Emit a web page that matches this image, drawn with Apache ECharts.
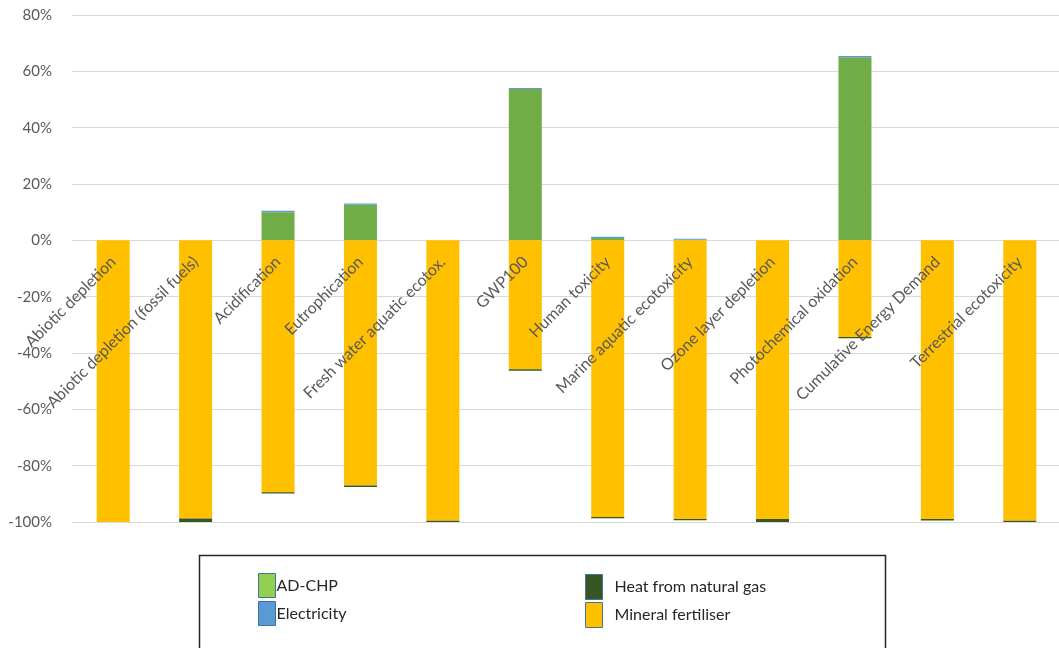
<!DOCTYPE html>
<html>
<head>
<meta charset="utf-8">
<script src="https://cdn.jsdelivr.net/npm/echarts@6/dist/echarts.min.js"></script>
<style>
  html, body { margin: 0; padding: 0; background: #fff; }
  #chart { width: 1059px; height: 648px; }
</style>
</head>
<body>
<div id="chart"></div>
<script>
// Impact categories along the x axis
const categories = [
  'Abiotic depletion',
  'Abiotic depletion (fossil fuels)',
  'Acidification',
  'Eutrophication',
  'Fresh water aquatic ecotox.',
  'GWP100',
  'Human toxicity',
  'Marine aquatic ecotoxicity',
  'Ozone layer depletion',
  'Photochemical oxidation',
  'Cumulative Energy Demand',
  'Terrestrial ecotoxicity'
];

// Contributions in percent per impact category
const adChp       = [0, 0, 10.0, 12.6, 0, 53.7, 0.8, 0.2, 0, 65.0, 0, 0];
const electricity = [0, 0, 0.5, 0.5, 0, 0.4, 0.5, 0.4, 0, 0.4, 0, 0];
const fertiliser  = [-100, -98.8, -89.4, -87.0, -99.6, -45.8, -98.2, -98.9, -98.9, -34.3, -98.9, -99.6];
const heatGas     = [0, -1.2, -0.5, -0.6, -0.4, -0.5, -0.5, -0.5, -1.1, -0.5, -0.6, -0.4];

// Y axis range and step (percent)
const yMin = -100, yMax = 80, yStep = 20;

const FONT = 'Lato, "Open Sans", "Liberation Sans", sans-serif';

// Plot area
const GRID_TOP = 15, GRID_BOTTOM = 126, CHART_H = 648;
const plotH = CHART_H - GRID_TOP - GRID_BOTTOM;
// lift the category axis from the bottom edge up to the 0% line
const zeroLift = -plotH * (0 - yMin) / (yMax - yMin);

const chart = echarts.init(document.getElementById('chart'), null, { renderer: 'canvas' });

const barW = 33;
function barSeries(name, data, color) {
  return {
    name: name,
    type: 'bar',
    stack: 'total',
    barWidth: barW,
    data: data,
    itemStyle: { color: color },
    emphasis: { disabled: true }
  };
}

chart.setOption({
  animation: false,
  backgroundColor: '#ffffff',
  textStyle: { fontFamily: FONT },
  grid: { left: 72, width: 989, top: GRID_TOP, bottom: GRID_BOTTOM, containLabel: false, outerBoundsMode: 'none' },
  xAxis: {
    type: 'category',
    data: categories,
    position: 'bottom',
    offset: zeroLift,
    z: 10,
    // the 0% grid line already marks the baseline
    axisLine: { show: false, onZero: false },
    axisTick: { show: false },
    axisLabel: {
      interval: 0,
      rotate: 45,
      margin: 19,
      hideOverlap: false,
      color: '#595959',
      fontSize: 16,
      fontFamily: FONT
    },
    splitLine: { show: false }
  },
  yAxis: {
    type: 'value',
    min: yMin,
    max: yMax,
    interval: yStep,
    axisLine: { show: false },
    axisTick: { show: false },
    axisLabel: {
      formatter: '{value}%',
      color: '#595959',
      fontSize: 15,
      margin: 20,
      fontFamily: FONT
    },
    splitLine: { lineStyle: { color: '#d9d9d9', width: 1 } }
  },
  legend: [
    {
      data: [
        { name: 'AD-CHP', itemStyle: { color: '#92d050', borderColor: '#41719c', borderWidth: 1 } },
        { name: 'Electricity', itemStyle: { color: '#5b9bd5', borderColor: '#41719c', borderWidth: 1 } }
      ],
      orient: 'vertical',
      left: 258,
      top: 573,
      padding: 0,
      itemWidth: 17,
      itemHeight: 24,
      itemGap: 3,
      icon: 'rect',
      selectedMode: false,
      textStyle: { color: '#262626', fontSize: 16, fontFamily: FONT, padding: [0, 0, 0, -4] }
    },
    {
      data: [
        { name: 'Heat from natural gas', itemStyle: { color: '#375623', borderColor: '#41719c', borderWidth: 1 } },
        { name: 'Mineral fertiliser', itemStyle: { color: '#ffc000', borderColor: '#41719c', borderWidth: 1 } }
      ],
      orient: 'vertical',
      left: 585,
      top: 574,
      padding: 0,
      itemWidth: 17,
      itemHeight: 25,
      itemGap: 2,
      icon: 'rect',
      selectedMode: false,
      textStyle: { color: '#262626', fontSize: 16, fontFamily: FONT, padding: [0, 0, 0, 7] }
    }
  ],
  graphic: [
    {
      type: 'rect',
      left: 197,
      top: 553,
      shape: { width: 686, height: 100 },
      style: { fill: 'none', stroke: '#262626', lineWidth: 1.5 },
      z: 100
    }
  ],
  series: [
    barSeries('AD-CHP', adChp, '#70ad47'),
    barSeries('Electricity', electricity, '#5b9bd5'),
    barSeries('Mineral fertiliser', fertiliser, '#ffc000'),
    barSeries('Heat from natural gas', heatGas, '#375623')
  ]
});
</script>
</body>
</html>
